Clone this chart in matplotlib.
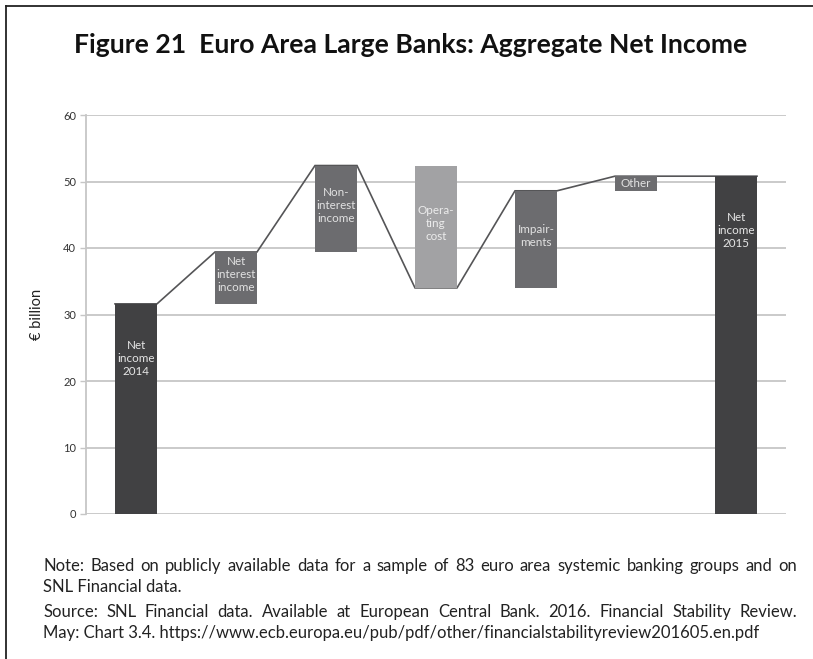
import matplotlib
matplotlib.use("Agg")
import matplotlib.pyplot as plt
from matplotlib.lines import Line2D

# Waterfall of aggregate net income, € billion
categories = ["Net\nincome\n2014", "Net\ninterest\nincome", "Non-\ninterest\nincome",
              "Opera-\nting\ncost", "Impair-\nments", "Other", "Net\nincome\n2015"]
bar_bottoms = [0.0, 31.6, 39.4, 34.0, 34.0, 48.6, 0.0]
bar_tops = [31.6, 39.4, 52.4, 52.4, 48.6, 50.8, 50.8]
running_total = [31.6, 39.4, 52.4, 34.0, 48.6, 50.8, 50.8]
kinds = ["total", "change", "change", "cost", "change", "change", "total"]
y_ticks = [0, 10, 20, 30, 40, 50, 60]

colors = {"total": "#414143", "change": "#6c6c6f", "cost": "#a2a2a4"}
label_colors = {"total": "#e6e6e6", "change": "#e2e2e2", "cost": "#ececec"}

plt.rcParams["font.family"] = ["Lato", "DejaVu Sans"]

W, H = 813, 659
fig = plt.figure(figsize=(W / 100, H / 100), dpi=100)
ax = fig.add_axes([86 / W, 1 - 514 / H, 700 / W, 399 / H])

xs = [i + 0.5 for i in range(len(categories))]
width = 0.42

for x, b, t, k in zip(xs, bar_bottoms, bar_tops, kinds):
    ax.bar(x, t - b, bottom=b, width=width, color=colors[k], zorder=3, linewidth=0)

# connector line through the running total, across each bar's width
lx, ly = [], []
for x, v in zip(xs, running_total):
    lx += [x - width / 2, x + width / 2]
    ly += [v, v]
ax.plot(lx, ly, color="#555557", lw=1.2, zorder=2, solid_joinstyle="miter")

# labels inside the bars
for x, b, t, k, lab in zip(xs, bar_bottoms, bar_tops, kinds, categories):
    if k == "total":
        y = t - 8.2
    elif t - b < 5:
        y = (b + t) / 2
    else:
        y = (b + t) / 2 + 0.5
    ax.text(x, y, lab, ha="center", va="center", fontsize=8.4, color=label_colors[k],
            linespacing=1.25, zorder=4)

ax.set_xlim(0, 7)
ax.set_ylim(0, 60)
ax.set_yticks(y_ticks)
ax.set_yticklabels([str(v) for v in y_ticks], fontsize=8, color="#333333")
ax.set_xticks([])
ax.grid(axis="y", color="#c6c6c6", lw=1.3, zorder=0)
for s in ["top", "right", "bottom"]:
    ax.spines[s].set_visible(False)
ax.spines["left"].set_color("#c6c6c6")
ax.spines["left"].set_linewidth(1.3)
ax.tick_params(axis="y", length=4, width=1.0, color="#c6c6c6", pad=3)
ax.set_ylabel("€ billion", fontsize=10.5, color="#222222", labelpad=14)

fig.text(411 / W, 1 - 45 / H, "Figure 21  Euro Area Large Banks: Aggregate Net Income",
         ha="center", va="center", fontsize=19.1, fontweight="bold", color="#111111")

# frame lines along the top and left edges
fig.add_artist(Line2D([6 / W, 6 / W], [0, 1 - 6 / H], transform=fig.transFigure,
                      color="#222222", lw=1.3))
fig.add_artist(Line2D([6 / W, 1], [1 - 6 / H, 1 - 6 / H], transform=fig.transFigure,
                      color="#222222", lw=1.3))

# footer, with full-width lines justified between the margins
left_px, right_px = 43, 797
footer = [
    ("Note: Based on publicly available data for a sample of 83 euro area systemic banking groups and on", 566, True),
    ("SNL Financial data.", 587, False),
    ("Source: SNL Financial data. Available at European Central Bank. 2016. Financial Stability Review.", 612, True),
    ("May: Chart 3.4. https://www.ecb.europa.eu/pub/pdf/other/financialstabilityreview201605.en.pdf", 633, False),
]
fs = 12.0
renderer = fig.canvas.get_renderer()
for line, ypx, justify in footer:
    yf = 1 - ypx / H
    if not justify:
        fig.text(left_px / W, yf, line, ha="left", va="center", fontsize=fs, color="#222222")
        continue
    words = line.split(" ")
    arts = [fig.text(0, yf, w, ha="left", va="center", fontsize=fs, color="#222222") for w in words]
    widths = [a.get_window_extent(renderer).width for a in arts]
    gap = (right_px - left_px - sum(widths)) / (len(words) - 1)
    xpos = left_px
    for a, w in zip(arts, widths):
        a.set_x(xpos / W)
        xpos += w + gap

fig.savefig("out.png", dpi=100)
